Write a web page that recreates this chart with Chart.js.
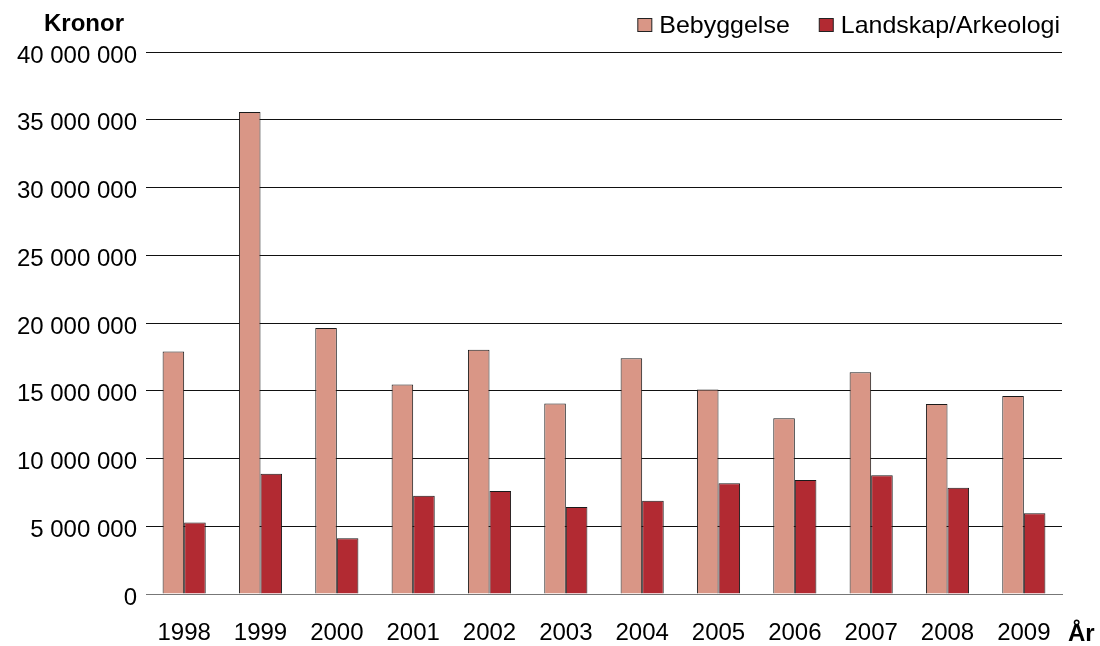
<!DOCTYPE html>
<html lang="sv">
<head>
    <meta charset="UTF-8">
    <title>Kronor per år</title>
    <script src="https://cdn.jsdelivr.net/npm/chart.js@4"></script>
    <style>
        html, body {
            margin: 0;
            padding: 0;
            background: #fff;
        }
        #wrap {
            width: 1100px;
            height: 646px;
        }
    </style>
</head>
<body>
    <div id="wrap"><canvas id="chart"></canvas></div>

    <script>
        const years = ['1998', '1999', '2000', '2001', '2002', '2003', '2004', '2005', '2006', '2007', '2008', '2009'];
        const bebyggelse = [17900000, 35570000, 19640000, 15460000, 18020000, 14050000, 17400000, 15090000, 12970000, 16370000, 14030000, 14620000];
        const landskap = [5270000, 8880000, 4110000, 7260000, 7610000, 6420000, 6890000, 8170000, 8420000, 8760000, 7850000, 5960000];

        const FONT = '"Liberation Sans", Arial, sans-serif';

        // thousands separated by a space, like "35 000 000"
        const fmt = v => String(v).replace(/\B(?=(\d{3})+(?!\d))/g, ' ');

        const extras = {
            id: 'extras',
            afterDraw(chart) {
                const ctx = chart.ctx;
                ctx.save();
                ctx.fillStyle = '#000';
                ctx.font = 'bold 24px ' + FONT;
                ctx.textBaseline = 'alphabetic';
                ctx.textAlign = 'center';
                ctx.fillText('Kronor', 84, 31);
                ctx.textAlign = 'left';
                ctx.fillText('År', 1068, 641);

                // legend, right aligned
                ctx.font = '24px ' + FONT;
                let x = 1060;
                const items = chart.data.datasets.slice().reverse();
                items.forEach(ds => {
                    const w = ctx.measureText(ds.label).width * 1.04;
                    x -= w;
                    ctx.save();
                    ctx.translate(x, 33);
                    ctx.scale(1.04, 1);
                    ctx.fillStyle = '#000';
                    ctx.fillText(ds.label, 0, 0);
                    ctx.restore();
                    x -= 22;
                    ctx.fillStyle = ds.backgroundColor;
                    ctx.fillRect(x + 0.5, 18.5, 14, 13);
                    ctx.strokeStyle = '#222';
                    ctx.lineWidth = 1;
                    ctx.strokeRect(x + 0.5, 18.5, 14, 13);
                    x -= 29;
                });
                ctx.restore();
            }
        };

        new Chart(document.getElementById('chart'), {
            type: 'bar',
            data: {
                labels: years,
                datasets: [{
                    label: 'Bebyggelse',
                    data: bebyggelse,
                    backgroundColor: '#d99686',
                    borderColor: '#1a1a1a',
                    borderWidth: 1
                }, {
                    label: 'Landskap/Arkeologi',
                    data: landskap,
                    backgroundColor: '#b22a32',
                    borderColor: '#1a1a1a',
                    borderWidth: 1
                }]
            },
            options: {
                responsive: true,
                maintainAspectRatio: false,
                animation: false,
                layout: {
                    padding: { top: 52, right: 38, bottom: 0, left: 0 }
                },
                datasets: {
                    bar: {
                        barPercentage: 1,
                        categoryPercentage: 0.565
                    }
                },
                plugins: {
                    legend: { display: false },
                    tooltip: { enabled: true }
                },
                scales: {
                    x: {
                        grid: { display: false, drawTicks: false },
                        border: { display: true, color: '#777', width: 1 },
                        ticks: {
                            color: '#000',
                            font: { family: FONT, size: 24 },
                            padding: 25,
                            maxRotation: 0,
                            autoSkip: false
                        },
                        afterFit: scale => { scale.height = 52; }
                    },
                    y: {
                        min: 0,
                        max: 40000000,
                        border: { display: false },
                        grid: {
                            drawTicks: false,
                            color: ctx => ctx.tick && ctx.tick.value === 0 ? '#777' : '#111',
                            lineWidth: 1
                        },
                        ticks: {
                            stepSize: 5000000,
                            color: '#000',
                            font: { family: FONT, size: 24 },
                            padding: 9,
                            labelOffset: 4,
                            callback: v => fmt(v)
                        },
                        afterFit: scale => { scale.width = 146; }
                    }
                }
            },
            plugins: [extras]
        });
    </script>
</body>
</html>
